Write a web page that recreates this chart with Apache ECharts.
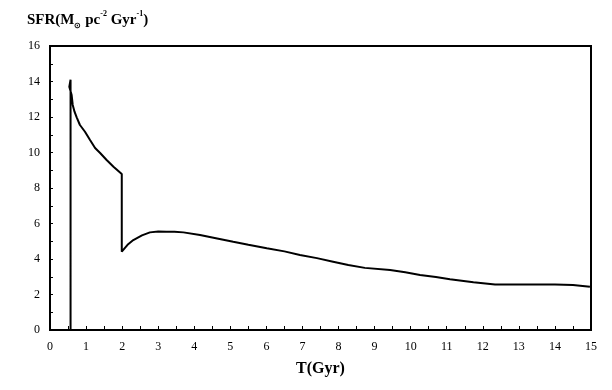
<!DOCTYPE html>
<html>
<head>
<meta charset="utf-8">
<script src="https://cdn.jsdelivr.net/npm/echarts@6/dist/echarts.min.js"></script>
<style>html,body{margin:0;padding:0;background:#fff}#c{width:612px;height:390px}</style>
</head>
<body>
<div id="c"></div>
<script>
// Time (Gyr) and SFR values
const tValues = [0.57, 0.57, 0.535, 0.60, 0.63, 0.68, 0.74, 0.83, 0.97, 1.11, 1.25, 1.39, 1.57, 1.76, 1.99,
  1.99, 2.15, 2.31, 2.55, 2.77, 3.0, 3.23, 3.45, 3.70, 4.16, 4.6, 5.08, 5.5, 6.01, 6.5, 6.93, 7.4, 7.85, 8.27, 8.73, 9.43, 9.85, 10.26, 10.7, 11.09, 11.74, 12.34, 13.0, 13.58, 14.0, 14.5, 14.97];
const sfrValues = [0, 14.1, 13.7, 13.24, 12.68, 12.3, 11.98, 11.55, 11.17, 10.7, 10.25, 9.97, 9.58, 9.2, 8.79,
  4.41, 4.8, 5.07, 5.33, 5.5, 5.55, 5.54, 5.54, 5.5, 5.35, 5.17, 4.97, 4.8, 4.6, 4.43, 4.23, 4.05, 3.85, 3.66, 3.5, 3.38, 3.25, 3.1, 2.98, 2.86, 2.69, 2.57, 2.57, 2.57, 2.56, 2.54, 2.44];
const xTickLabels = ['0','1','2','3','4','5','6','7','8','9','10','11','12','13','14','15'];
const yTickLabels = ['0','2','4','6','8','10','12','14','16'];

const data = tValues.map((t, i) => [t, sfrValues[i]]);
const chart = echarts.init(document.getElementById('c'));
const font = '"Liberation Serif", "Times New Roman", serif';
chart.setOption({
  animation: false,
  backgroundColor: '#fff',
  title: {
    left: 22, top: 5,
    text: '{a|SFR(M}{sub|⊙}{a| pc}{sup|-2}{a| Gyr}{sup|-1}{a|)}',
    textStyle: {
      rich: {
        a: {fontFamily: font, fontWeight: 'bold', fontSize: 15, color: '#000', lineHeight: 20},
        sub: {fontFamily: font, fontWeight: 'bold', fontSize: 8, color: '#000', verticalAlign: 'bottom', lineHeight: 12},
        sup: {fontFamily: font, fontWeight: 'bold', fontSize: 8, color: '#000', verticalAlign: 'top', lineHeight: 12}
      }
    }
  },
  grid: {left: 50, right: 21, top: 46, bottom: 60, show: true, borderColor: '#000', borderWidth: 2, backgroundColor: 'transparent'},
  xAxis: {
    type: 'value', min: 0, max: 15, interval: 0.5,
    name: 'T(Gyr)', nameLocation: 'middle', nameGap: 31,
    nameTextStyle: {fontFamily: font, fontWeight: 'bold', fontSize: 16, color: '#000'},
    axisLine: {lineStyle: {color: '#000', width: 2}},
    axisTick: {inside: true, length: 4, lineStyle: {color: '#000', width: 1}},
    axisLabel: {
      fontFamily: font, fontSize: 12, color: '#000', margin: 11,
      formatter: v => (Math.abs(v - Math.round(v)) < 1e-6 ? xTickLabels[Math.round(v)] : '')
    },
    splitLine: {show: false}
  },
  yAxis: {
    type: 'value', min: 0, max: 16, interval: 1,
    axisLine: {lineStyle: {color: '#000', width: 2}},
    axisTick: {inside: true, length: 3, lineStyle: {color: '#000', width: 1}},
    axisLabel: {
      fontFamily: font, fontSize: 12, color: '#000', margin: 10,
      formatter: v => (Math.round(v) % 2 === 0 ? yTickLabels[Math.round(v) / 2] : '')
    },
    splitLine: {show: false}
  },
  series: [{
    type: 'line', data: data, showSymbol: false, symbol: 'none',
    lineStyle: {color: '#000', width: 2}, smooth: false
  }]
});
</script>
</body>
</html>
